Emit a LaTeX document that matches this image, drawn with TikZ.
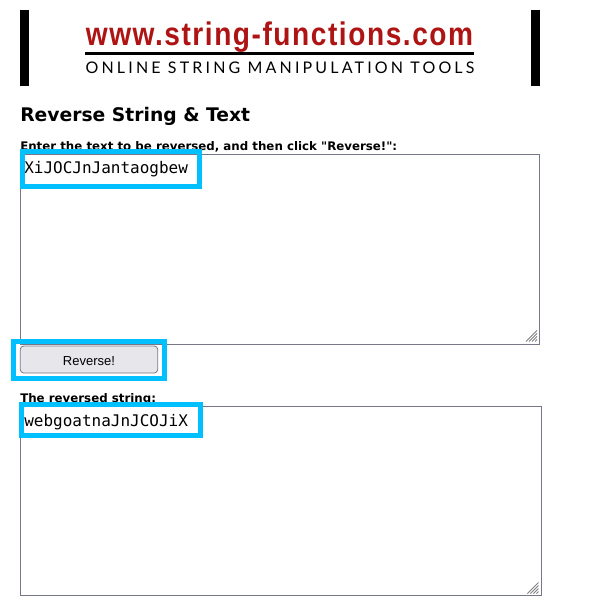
\documentclass[tikz,border=0pt]{standalone}
\usepackage{fontspec}
\setmainfont{DejaVu Sans}
\newfontfamily\logofont[LetterSpace=5.5]{Liberation Sans}
\newfontfamily\tagfont[LetterSpace=19.8]{Lato}
\newfontfamily\btnfont{Liberation Sans}
\newfontfamily\entryfont{DejaVu Sans Mono}
\definecolor{logored}{HTML}{AE1414}
\definecolor{markblue}{HTML}{00C0FF}
\definecolor{arealine}{HTML}{77778A}
\definecolor{btnfill}{HTML}{E6E6EB}
\begin{document}
\begin{tikzpicture}[
  x=0.75pt, y=-0.75pt,
  side_bar/.style={rectangle, fill=black, inner sep=0pt, minimum width=6.75pt, minimum height=57pt},
  logo_text/.style={inner sep=0pt, text=logored, font=\logofont\bfseries\fontsize{24.5}{24.5}\selectfont, xscale=0.86},
  tag_text/.style={inner sep=0pt, font=\tagfont\fontsize{12}{12}\selectfont},
  title_text/.style={inner sep=0pt, anchor=base west, font=\bfseries\fontsize{14.05}{14}\selectfont},
  field_label/.style={inner sep=0pt, anchor=base west, font=\bfseries\fontsize{8.86}{9}\selectfont},
  text_area/.style={rectangle, draw=arealine, fill=white, line width=0.75pt, inner sep=0pt, anchor=north west},
  entry_text/.style={inner sep=0pt, anchor=base west, font=\entryfont\fontsize{12}{12}\selectfont},
  push_btn/.style={rectangle, draw=arealine, fill=btnfill, rounded corners=2.5pt, line width=0.6pt, inner sep=0pt,
    minimum width=103pt, minimum height=20.25pt, text height=9pt, text depth=0pt, font=\btnfont\fontsize{9.75}{9.75}\selectfont},
  mark_box/.style={draw=markblue, line width=3.75pt},
  grip_line/.style={draw=gray, line width=0.6pt}
  ]

\useasboundingbox (0,0) rectangle (609,614);

\node [side_bar] (bar_left) at (24.5,48) {};
\node [side_bar] (bar_right) at (535.5,48) {};
\node [logo_text] (logo) at (279.5,37) {www.string-functions.com};
\draw [line width=2.25pt] (85,53) -- (474,53);
\node [tag_text] (tagline) at (280,67.5) {ONLINE STRING MANIPULATION TOOLS};

\node [title_text] (title) at (20,121) {Reverse String \& Text};
\node [field_label] (label_in) at (20,150) {Enter the text to be reversed, and then click \textquotedbl Reverse!\textquotedbl:};
\node [field_label] (label_out) at (20,402) {The reversed string:};

\node [text_area, minimum width=389.25pt, minimum height=142.5pt] (area_in) at (20,154) {};
\node [text_area, minimum width=390.75pt, minimum height=141.75pt] (area_out) at (20,406) {};

\foreach \dy in {0,252} {
  \foreach \d in {2,5,8,11} {
    \draw [grip_line] (537-\d+\dy/252*1.5,342+\dy-0.5) -- (537+\dy/252*1.5,342+\dy-\d-0.5);
  }
}

\node [entry_text] (entry_in) at (24,173) {XiJOCJnJantaogbew};
\node [entry_text] (entry_out) at (24,426) {webgoatnaJnJCOJiX};
\node [push_btn] (btn) at (89,359.5) {Reverse!};

\draw [mark_box] (22.5,151.5) rectangle (199,186);
\draw [mark_box] (13.5,341.5) rectangle (164.5,378.5);
\draw [mark_box] (21.5,404.5) rectangle (200,435.5);
\end{tikzpicture}
\end{document}
